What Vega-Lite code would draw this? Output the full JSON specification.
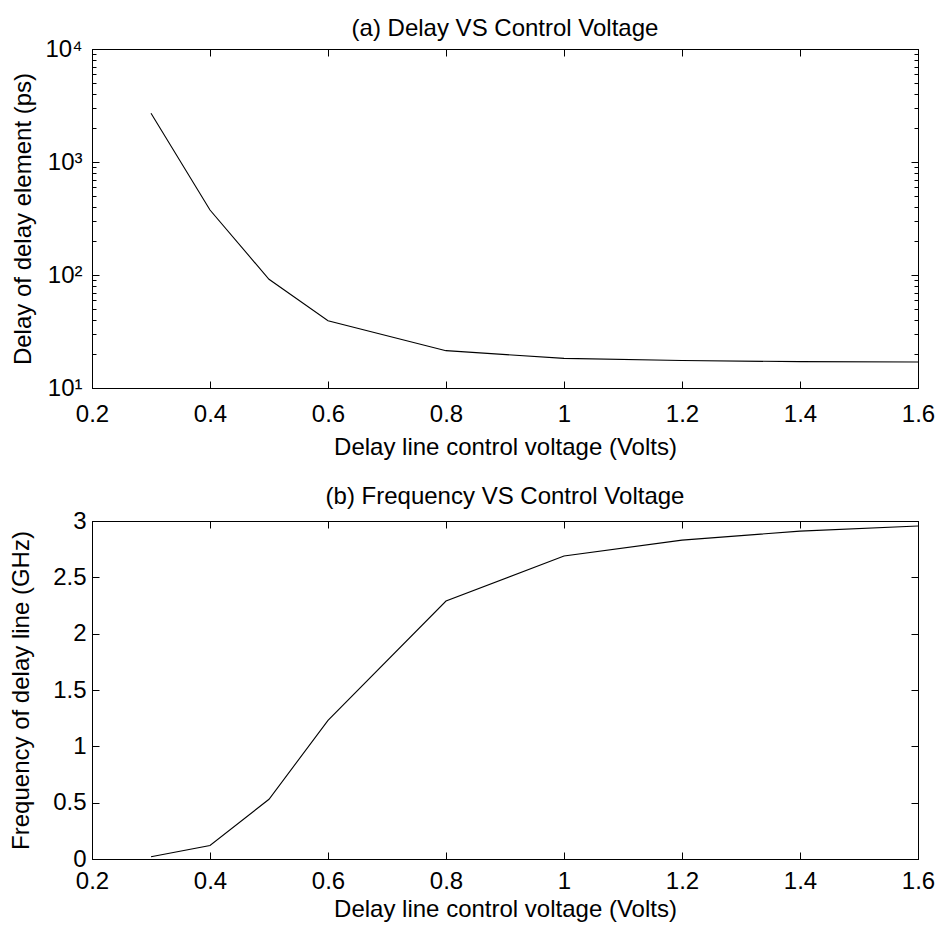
{
  "$schema": "https://vega.github.io/schema/vega-lite/v6.json",
  "background": "white",
  "padding": {"left": 9, "top": 16, "right": 5, "bottom": 0},
  "config": {
    "font": "Liberation Sans",
    "view": {"stroke": "black", "strokeWidth": 1},
    "axis": {
      "domainColor": "black", "tickColor": "black", "labelColor": "black", "titleColor": "black",
      "labelFontSize": 24, "titleFontSize": 24, "titleFontWeight": "normal",
      "grid": false, "labelFlush": false, "labelOverlap": false, "tickWidth": 1, "domainWidth": 1
    },
    "title": {"fontSize": 24, "fontWeight": "normal", "color": "black"},
    "concat": {"spacing": 24}
  },
  "datasets": {
    "delay": [
      {"v": 0.3, "d": 2700}, {"v": 0.4, "d": 376}, {"v": 0.5, "d": 91.6}, {"v": 0.6, "d": 39.4},
      {"v": 0.8, "d": 21.4}, {"v": 1.0, "d": 18.3}, {"v": 1.2, "d": 17.5}, {"v": 1.4, "d": 17.1}, {"v": 1.6, "d": 17.0}
    ],
    "freq": [
      {"v": 0.3, "f": 0.02}, {"v": 0.4, "f": 0.12}, {"v": 0.5, "f": 0.53}, {"v": 0.6, "f": 1.23},
      {"v": 0.8, "f": 2.29}, {"v": 1.0, "f": 2.69}, {"v": 1.2, "f": 2.83}, {"v": 1.4, "f": 2.91}, {"v": 1.6, "f": 2.955}
    ]
  },
  "vconcat": [
    {
      "title": {"text": "(a) Delay VS Control Voltage", "baseline": "alphabetic", "offset": -23, "frame": "group"},
      "width": 826, "height": 339,
      "data": {"name": "delay"},
      "layer": [
        {
          "mark": {"type": "line", "color": "black", "strokeWidth": 1.1},
          "encoding": {
            "x": {"field": "v", "type": "quantitative", "scale": {"domain": [0.2, 1.6], "nice": false, "zero": false},
              "axis": {"values": [0.2, 0.4, 0.6, 0.8, 1.0, 1.2, 1.4, 1.6], "format": "~g", "tickSize": -7, "labelPadding": 21, "titlePadding": 9,
                "title": "Delay line control voltage (Volts)"}},
            "y": {"field": "d", "type": "quantitative", "scale": {"type": "log", "domain": [10, 10000], "nice": false},
              "axis": {"values": [10,20,30,40,50,60,70,80,90,100,200,300,400,500,600,700,800,900,1000,2000,3000,4000,5000,6000,7000,8000,9000,10000],
                "labelExpr": "datum.value == 10 ? '10\u00b9' : datum.value == 100 ? '10\u00b2' : datum.value == 1000 ? '10\u00b3' : datum.value == 10000 ? '10\u2074' : ''",
                "tickSize": {"condition": {"test": "datum.value == 10 || datum.value == 100 || datum.value == 1000 || datum.value == 10000", "value": -7}, "value": -4},
                "labelPadding": 17, "titlePadding": 9, "title": "Delay of delay element (ps)"}}
          }
        },
        {
          "mark": {"type": "line", "opacity": 0},
          "encoding": {
            "x": {"field": "v", "type": "quantitative", "axis": {"orient": "top", "values": [0.2, 0.4, 0.6, 0.8, 1.0, 1.2, 1.4, 1.6], "labels": false, "title": null, "tickSize": -7, "minExtent": 0}},
            "y": {"field": "d", "type": "quantitative",
              "axis": {"orient": "right", "values": [10,20,30,40,50,60,70,80,90,100,200,300,400,500,600,700,800,900,1000,2000,3000,4000,5000,6000,7000,8000,9000,10000],
                "labels": false, "title": null, "minExtent": 0,
                "tickSize": {"condition": {"test": "datum.value == 10 || datum.value == 100 || datum.value == 1000 || datum.value == 10000", "value": -7}, "value": -4}}}
          }
        }
      ],
      "resolve": {"axis": {"x": "independent", "y": "independent"}}
    },
    {
      "title": {"text": "(b) Frequency VS Control Voltage", "baseline": "alphabetic", "offset": -19, "frame": "group"},
      "width": 826, "height": 338,
      "data": {"name": "freq"},
      "layer": [
        {
          "mark": {"type": "line", "color": "black", "strokeWidth": 1.1},
          "encoding": {
            "x": {"field": "v", "type": "quantitative", "scale": {"domain": [0.2, 1.6], "nice": false, "zero": false},
              "axis": {"values": [0.2, 0.4, 0.6, 0.8, 1.0, 1.2, 1.4, 1.6], "format": "~g", "tickSize": -7, "labelPadding": 17, "titlePadding": 4,
                "title": "Delay line control voltage (Volts)"}},
            "y": {"field": "f", "type": "quantitative", "scale": {"domain": [0, 3], "nice": false},
              "axis": {"values": [0, 0.5, 1, 1.5, 2, 2.5, 3], "format": "~g", "tickSize": -7, "labelPadding": 13, "titlePadding": 19,
                "title": "Frequency of delay line (GHz)"}}
          }
        },
        {
          "mark": {"type": "line", "opacity": 0},
          "encoding": {
            "x": {"field": "v", "type": "quantitative", "axis": {"orient": "top", "values": [0.2, 0.4, 0.6, 0.8, 1.0, 1.2, 1.4, 1.6], "labels": false, "title": null, "tickSize": -7, "minExtent": 0}},
            "y": {"field": "f", "type": "quantitative", "axis": {"orient": "right", "values": [0, 0.5, 1, 1.5, 2, 2.5, 3], "labels": false, "title": null, "tickSize": -7, "minExtent": 0}}
          }
        }
      ],
      "resolve": {"axis": {"x": "independent", "y": "independent"}}
    }
  ]
}
